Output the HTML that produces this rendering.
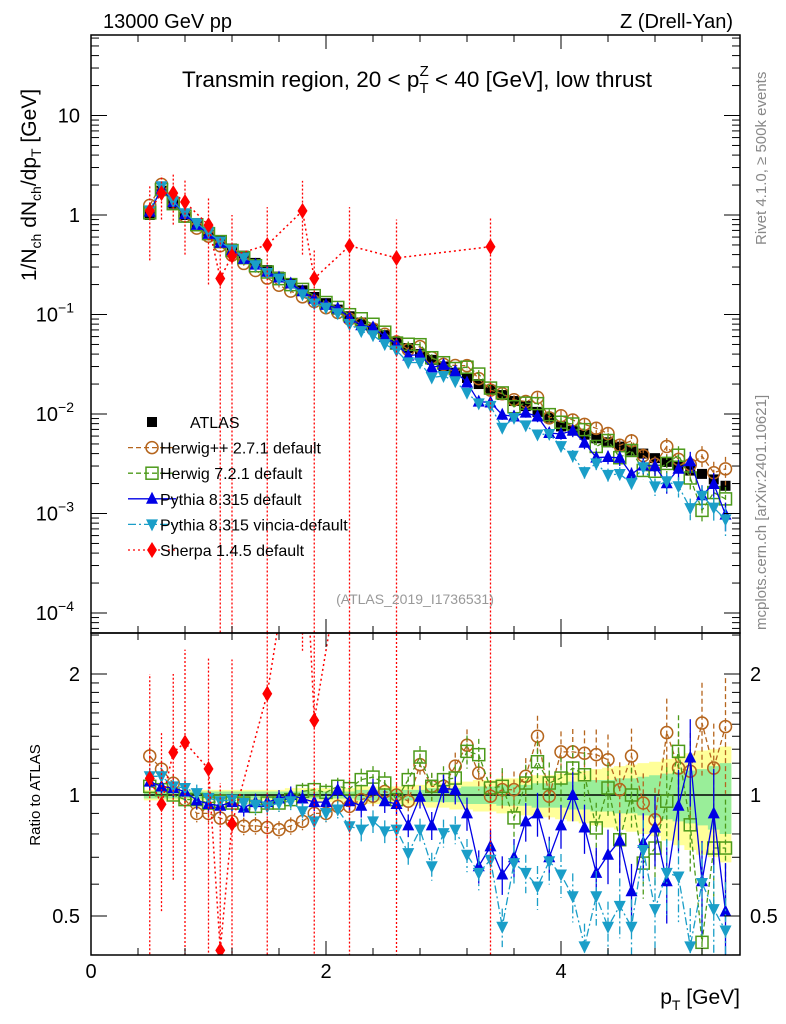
<!DOCTYPE html>
<html><head><meta charset="utf-8">
<style>
html,body{margin:0;background:#fff;overflow:hidden;width:786px;height:1024px;}
svg{display:block;font-family:"Liberation Sans",sans-serif;}
</style></head>
<body>
<svg id="chart" width="786" height="1024" viewBox="0 0 786 1024" xmlns="http://www.w3.org/2000/svg">
<defs>
<clipPath id="cm"><rect x="91" y="35" width="649" height="598"/></clipPath>
<clipPath id="cr"><rect x="91" y="633" width="649" height="322"/></clipPath>
</defs>
<g id="bandG" clip-path="url(#cr)"></g>
<g id="mainG" clip-path="url(#cm)"></g>
<g id="ratioG" clip-path="url(#cr)"></g>
<g id="axes"></g>
<text x="103" y="28" font-size="20">13000 GeV pp</text>
<text x="733" y="28" font-size="20" text-anchor="end">Z (Drell-Yan)</text>
<text x="417" y="87" font-size="22.5" text-anchor="middle">Transmin region, 20 &lt; p<tspan font-size="15" dy="6">T</tspan><tspan font-size="15" dx="-9" dy="-17">Z</tspan><tspan dy="11"> &lt; 40 [GeV], low thrust</tspan></text>
<text x="415" y="604" font-size="14" fill="#999" text-anchor="middle">(ATLAS_2019_I1736531)</text>
<text transform="translate(766,245) rotate(-90)" font-size="15" fill="#888">Rivet 4.1.0, ≥ 500k events</text>
<text transform="translate(766,630) rotate(-90)" font-size="15" fill="#888">mcplots.cern.ch [arXiv:2401.10621]</text>
<text transform="translate(36,185) rotate(-90)" font-size="21" text-anchor="middle">1/N<tspan font-size="14" dy="5">ch</tspan><tspan dy="-5"> dN</tspan><tspan font-size="14" dy="5">ch</tspan><tspan dy="-5">/dp</tspan><tspan font-size="14" dy="5">T</tspan><tspan dy="-5"> [GeV]</tspan></text>
<text transform="translate(40,795) rotate(-90)" font-size="15" text-anchor="middle">Ratio to ATLAS</text>
<text x="740" y="1004" font-size="21" text-anchor="end">p<tspan font-size="14" dy="6">T</tspan><tspan dy="-6"> [GeV]</tspan></text>
<g id="legend"></g>
</svg>
<script>
const pts = [0.5,0.6,0.7,0.8,0.9,1.0,1.1,1.2,1.3,1.4,1.5,1.6,1.7,1.8,1.9,2.0,2.1,2.2,2.3,2.4,2.5,2.6,2.7,2.8,2.9,3.0,3.1,3.2,3.3,3.4,3.5,3.6,3.7,3.8,3.9,4.0,4.1,4.2,4.3,4.4,4.5,4.6,4.7,4.8,4.9,5.0,5.1,5.2,5.3,5.4];
const atlas = [1.0,1.75,1.3,1.0,0.82,0.68,0.56,0.46,0.39,0.33,0.28,0.24,0.205,0.175,0.15,0.13,0.112,0.096,0.083,0.072,0.062,0.053,0.046,0.04,0.035,0.030,0.026,0.023,0.020,0.0175,0.0155,0.0135,0.012,0.0105,0.0092,0.0075,0.0068,0.0062,0.0057,0.0052,0.0047,0.0043,0.004,0.0036,0.0033,0.003,0.0027,0.0025,0.0022,0.0019];
const bandInner = [0.02,0.02,0.02,0.02,0.02,0.02,0.02,0.02,0.02,0.02,0.02,0.02,0.02,0.02,0.02,0.02,0.02,0.02,0.03,0.03,0.03,0.03,0.03,0.03,0.04,0.04,0.04,0.05,0.05,0.05,0.06,0.06,0.06,0.07,0.07,0.07,0.08,0.08,0.09,0.09,0.10,0.10,0.11,0.12,0.13,0.14,0.15,0.16,0.18,0.2];
const bandOuter = [0.03,0.03,0.03,0.03,0.03,0.03,0.03,0.03,0.03,0.03,0.03,0.03,0.04,0.04,0.04,0.04,0.04,0.04,0.05,0.05,0.05,0.05,0.06,0.06,0.07,0.07,0.08,0.08,0.09,0.09,0.1,0.1,0.11,0.12,0.12,0.13,0.14,0.15,0.16,0.17,0.18,0.19,0.2,0.21,0.23,0.25,0.27,0.29,0.3,0.32];
const herwigpp = [1.25,1.16,1.07,0.974,0.90,0.90,0.876,0.86,0.836,0.839,0.83,0.82,0.838,0.86,0.90,0.90,0.937,0.937,0.974,0.993,1.02,1.0,0.965,1.19,1.051,1.051,1.18,1.33,1.134,0.993,1.031,1.031,1.113,1.40,0.993,1.28,1.28,1.27,1.26,1.224,1.031,1.25,0.955,0.868,1.43,1.167,1.146,1.51,1.167,1.48];
const herwig7 = [1.051,1.031,1.0,0.974,0.974,0.955,0.965,0.955,0.955,0.937,0.955,0.955,0.974,1.021,1.031,1.015,1.051,1.037,1.092,1.108,1.071,0.974,1.092,1.243,1.051,1.092,1.102,1.284,1.26,1.041,1.051,0.877,1.071,1.21,1.071,1.102,1.167,1.123,0.828,1.041,0.774,1.0,0.677,0.738,0.965,1.284,0.843,0.43,0.738,0.738];
const pythia = [1.08,1.05,1.04,1.02,0.97,0.95,0.94,0.96,0.93,0.96,0.96,0.98,1.0,0.98,0.96,0.96,1.03,0.965,0.94,1.03,0.965,0.95,0.84,0.99,0.84,1.04,1.03,0.9,0.665,0.745,0.634,0.70,0.86,0.9,0.70,0.84,1.0,0.83,0.64,0.71,0.77,0.576,0.76,0.83,0.61,0.94,1.24,0.61,0.90,0.513];
const vincia = [1.113,1.113,1.051,1.041,1.011,0.983,0.965,0.974,0.955,0.946,0.937,0.955,0.965,0.911,0.86,0.902,0.92,0.836,0.82,0.86,0.812,0.82,0.717,0.82,0.665,0.804,0.82,0.71,0.64,0.69,0.47,0.677,0.64,0.592,0.684,0.634,0.56,0.42,0.56,0.47,0.53,0.47,0.73,0.52,0.64,0.627,0.42,0.604,0.52,0.46];
const sherpaX = [0.5,0.6,0.7,0.8,1.0,1.1,1.2,1.5,1.8,1.9,2.2,2.6,3.4];
const sherpaY = [1.1,1.66,1.66,1.35,0.79,0.23,0.39,0.5,1.1,0.23,0.49,0.37,0.48];
const sherpaLo = [0.35,0.9,0.8,0.4,0.2,0.00001,0.00001,0.00001,0.4,0.00001,0.00001,0.00001,0.00001];
const sherpaHi = [2.0,2.5,2.6,2.3,1.5,0.6,1.0,1.2,2.2,0.45,1.2,0.9,0.95];
const xTicks = [0,2,4];
const mainTicks = [["10",1],["1",0],["10","-1"],["10","-2"],["10","-3"],["10","-4"]];
const ratioTicks = [0.5,1,2];

const NS="http://www.w3.org/2000/svg";
const X0=91, X1=740, PX=117.5;
const xS = v => X0 + v*PX;
const yM = v => 215 - 99.5*Math.log10(v);
const yR = r => 795 - 121*Math.log2(r);
function mk(tag, attrs, parent){const e=document.createElementNS(NS,tag);for(const k in attrs)e.setAttribute(k,attrs[k]);parent.appendChild(e);return e;}
const mainG=document.getElementById('mainG'), ratioG=document.getElementById('ratioG'), bandG=document.getElementById('bandG'), axes=document.getElementById('axes'), legend=document.getElementById('legend');

function bandPath(w){let top='',bot='';const half=5.87;
 for(let i=0;i<pts.length;i++){const a=xS(pts[i])-half,b=xS(pts[i])+half;top+=(i?'L':'M')+a+','+yR(1+w[i])+'L'+b+','+yR(1+w[i]);}
 for(let i=pts.length-1;i>=0;i--){const a=xS(pts[i])-half,b=xS(pts[i])+half;bot+='L'+b+','+yR(1-w[i])+'L'+a+','+yR(1-w[i]);}
 return top+bot+'Z';}
let e=mk('path',{d:bandPath(bandOuter),fill:'#ffff99'},bandG);


e=mk('path',{d:bandPath(bandInner),fill:'#99ee99'},bandG);


e=mk('line',{x1:X0,x2:X1,y1:yR(1),y2:yR(1),stroke:'#000','stroke-width':1.5},ratioG);



function marker(g,type,color,x,y,name){
 let m;const s=6;
 if(type==='sq') m=mk('rect',{x:x-s+1,y:y-s+1,width:2*s-2,height:2*s-2,fill:'#000'},g);
 else if(type==='osq') m=mk('rect',{x:x-s,y:y-s,width:2*s,height:2*s,fill:'none',stroke:color,'stroke-width':1.5},g);
 else if(type==='circ') m=mk('circle',{cx:x,cy:y,r:s,fill:'none',stroke:color,'stroke-width':1.5},g);
 else if(type==='tri') m=mk('path',{d:`M${x},${y-7}L${x+6},${y+5}L${x-6},${y+5}Z`,fill:color},g);
 else if(type==='itri') m=mk('path',{d:`M${x},${y+7}L${x+6},${y-5}L${x-6},${y-5}Z`,fill:color},g);
 else if(type==='dia') m=mk('path',{d:`M${x},${y-8}L${x+5},${y}L${x},${y+8}L${x-5},${y}Z`,fill:color},g);
 
 
}
const series=[
 {name:'herwigpp',r:herwigpp,type:'circ',color:'#b5651d',dash:'5,3',label:'Herwig++ 2.7.1 default'},
 {name:'herwig7',r:herwig7,type:'osq',color:'#4c9a1a',dash:'5,3',label:'Herwig 7.2.1 default'},
 {name:'pythia',r:pythia,type:'tri',color:'#0000e6',dash:'',label:'Pythia 8.315 default'},
 {name:'vincia',r:vincia,type:'itri',color:'#1a9ec8',dash:'8,3,2,3',label:'Pythia 8.315 vincia-default'}
];
for(let i=0;i<pts.length;i++) marker(mainG,'sq','#000',xS(pts[i]),yM(atlas[i]),'atlas-point');
for(const s of series){
 let dm='',dr='';
 for(let i=0;i<pts.length;i++){const x=xS(pts[i]);dm+=(i?'L':'M')+x+','+yM(atlas[i]*s.r[i]);dr+=(i?'L':'M')+x+','+yR(s.r[i]);}
 let l=mk('path',{d:dm,fill:'none',stroke:s.color,'stroke-width':1.3,'stroke-dasharray':s.dash},mainG);
 
 
 l=mk('path',{d:dr,fill:'none',stroke:s.color,'stroke-width':1.3,'stroke-dasharray':s.dash},ratioG);
 
 
 for(let i=0;i<pts.length;i++){
  const x=xS(pts[i]);const w=0.02+bandInner[i]*1.5;
  let eb=mk('line',{x1:x,x2:x,y1:yR(s.r[i]*(1+w)),y2:yR(s.r[i]*(1-w)),stroke:s.color,'stroke-width':1.3,'stroke-dasharray':s.dash},ratioG);
  
  
  eb=mk('line',{x1:x,x2:x,y1:yM(atlas[i]*s.r[i]*(1+w)),y2:yM(atlas[i]*s.r[i]*(1-w)),stroke:s.color,'stroke-width':1.3,'stroke-dasharray':s.dash},mainG);
  
  
  marker(mainG,s.type,s.color,x,yM(atlas[i]*s.r[i]),s.name+'-point');
  marker(ratioG,s.type,s.color,x,yR(s.r[i]),s.name+'-ratio-point');
 }
}
{let dm='',dr='';
 for(let i=0;i<sherpaX.length;i++){
  const x=xS(sherpaX[i]);const ai=pts.indexOf(sherpaX[i]);const a=atlas[ai>=0?ai:0];
  dm+=(i?'L':'M')+x+','+yM(sherpaY[i]);dr+=(i?'L':'M')+x+','+yR(sherpaY[i]/a);
  let eb=mk('line',{x1:x,x2:x,y1:yM(sherpaLo[i]),y2:yM(sherpaHi[i]),stroke:'#f00','stroke-width':1.3,'stroke-dasharray':'2,2'},mainG);
  
  
  eb=mk('line',{x1:x,x2:x,y1:yR(sherpaLo[i]/a),y2:yR(sherpaHi[i]/a),stroke:'#f00','stroke-width':1.3,'stroke-dasharray':'2,2'},ratioG);
  
  
 }
 let l=mk('path',{d:dm,fill:'none',stroke:'#f00','stroke-width':1.5,'stroke-dasharray':'2,3'},mainG);
 
 
 l=mk('path',{d:dr,fill:'none',stroke:'#f00','stroke-width':1.5,'stroke-dasharray':'2,3'},ratioG);
 
 
 for(let i=0;i<sherpaX.length;i++){
  const ai=pts.indexOf(sherpaX[i]);const a=atlas[ai>=0?ai:0];
  marker(mainG,'dia','#f00',xS(sherpaX[i]),yM(sherpaY[i]),'sherpa-point');
  marker(ratioG,'dia','#f00',xS(sherpaX[i]),yR(sherpaY[i]/a),'sherpa-ratio-point');
 }
}
for(const [y0,h,n] of [[35,598,'main-plot-frame'],[633,322,'ratio-plot-frame']]){
 const f=mk('rect',{x:X0,y:y0,width:X1-X0,height:h,fill:'none',stroke:'#000','stroke-width':1.5},axes);
 
 
}
for(let v=0;v<=5.6;v+=0.4){const x=xS(v);const major=Math.abs(v/2-Math.round(v/2))<1e-6;const L=major?14:7;
 for(const [yt,yb] of [[35,633],[633,955]]){
  mk('line',{x1:x,x2:x,y1:yt,y2:yt+L,stroke:'#000'},axes);mk('line',{x1:x,x2:x,y1:yb,y2:yb-L,stroke:'#000'},axes);}
}
for(const v of xTicks){const t=mk('text',{x:xS(v),y:978,'font-size':20,'text-anchor':'middle'},axes);t.textContent=v;
 
 }
for(let d=-5;d<=1;d++){for(let k=1;k<10;k++){const v=k*Math.pow(10,d);const y=yM(v);if(y<35||y>633)continue;const L=k===1?16:8;
 mk('line',{x1:X0,x2:X0+L,y1:y,y2:y,stroke:'#000'},axes);mk('line',{x1:X1,x2:X1-L,y1:y,y2:y,stroke:'#000'},axes);}}
for(const [b,ex] of mainTicks){const v=ex==='1'?10:(ex===0?1:Math.pow(10,+ex));const y=yM(v);
 const t=mk('text',{x:80,y:y+7,'font-size':20,'text-anchor':'end'},axes);
 
 
 if(typeof ex==='string'&&ex!=='1'){t.setAttribute('x',74);t.textContent=b;const s=document.createElementNS(NS,'tspan');s.setAttribute('font-size',14);s.setAttribute('dy',-9);s.textContent=ex.replace('-','−');t.appendChild(s);}
 else t.textContent=b;}
for(const r of [0.4,0.5,0.6,0.7,0.8,0.9,1,1.1,1.2,1.3,1.4,1.5,1.6,1.7,1.8,1.9,2,2.5]){const y=yR(r);if(y<633||y>955)continue;const L=ratioTicks.includes(r)?16:8;
 mk('line',{x1:X0,x2:X0+L,y1:y,y2:y,stroke:'#000'},axes);mk('line',{x1:X1,x2:X1-L,y1:y,y2:y,stroke:'#000'},axes);}
for(const r of ratioTicks){for(const [x,a] of [[80,'end'],[750,'start']]){
 const t=mk('text',{x:x,y:yR(r)+7,'font-size':20,'text-anchor':a},axes);t.textContent=r;
 
 }}
const legItems=[{type:'sq',color:'#000',label:'ATLAS',dash:null},...series,{type:'dia',color:'#f00',dash:'2,3',label:'Sherpa 1.4.5 default'}];
legItems.forEach((s,i)=>{const y=422+i*25.6;
 const g=mk('g',{},legend);
 
 
 if(s.dash!==null) mk('line',{x1:128,x2:176,y1:y,y2:y,stroke:s.color,'stroke-width':1.3,'stroke-dasharray':s.dash},g);
 marker(g,s.type,s.color,152,y,'legend-marker');
 const t=mk('text',{x:160,y:y+6,'font-size':16},g);t.textContent=s.label;
 t.setAttribute('x', s.type==='sq'?190:160);
 
 
});
</script>
</body></html>
